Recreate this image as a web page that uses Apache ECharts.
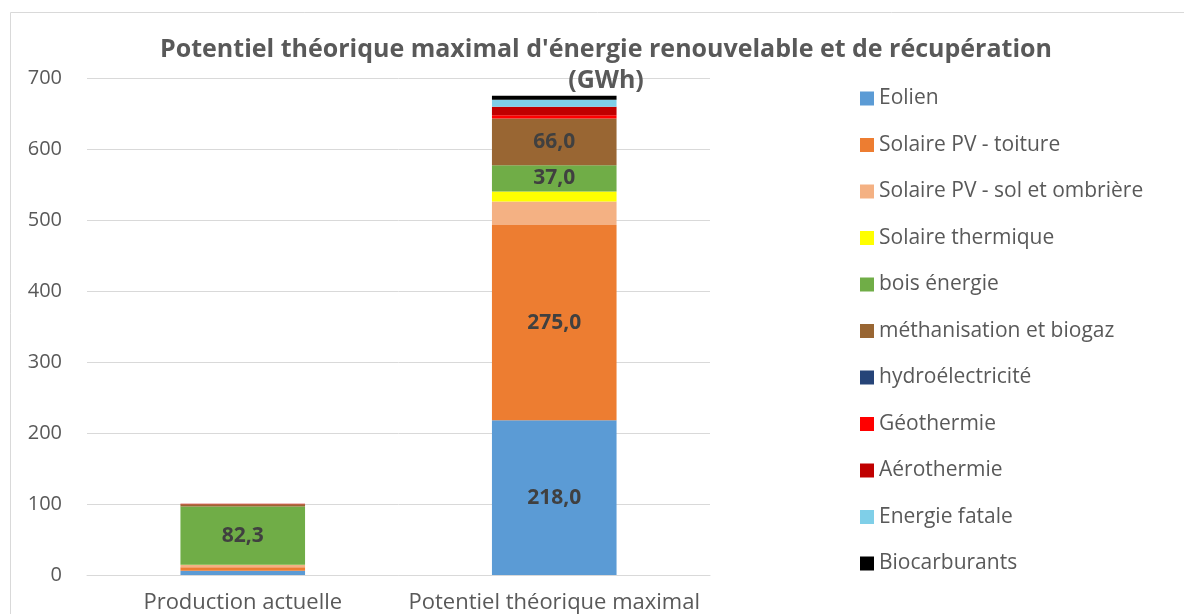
<!DOCTYPE html>
<html>
<head>
<meta charset="utf-8">
<script src="https://cdn.jsdelivr.net/npm/echarts@6/dist/echarts.min.js"></script>
<style>
  html, body { margin: 0; padding: 0; background: #fff; }
  #chart { width: 1184px; height: 614px; }
</style>
</head>
<body>
<div id="chart"></div>
<script>
// catégories et valeurs (GWh)
const categories = ['Production actuelle', 'Potentiel théorique maximal'];
const seriesNames = [
  'Eolien', 'Solaire PV - toiture', 'Solaire PV - sol et ombrière', 'Solaire thermique',
  'bois énergie', 'méthanisation et biogaz', 'hydroélectricité', 'Géothermie',
  'Aérothermie', 'Energie fatale', 'Biocarburants'
];
const colors = [
  '#5b9bd5', '#ed7d31', '#f4b183', '#ffff00',
  '#70ad47', '#996633', '#264478', '#ff0000',
  '#c00000', '#7fcfe8', '#000000'
];
const eolien = [6, 218];
const pvToiture = [5, 275];
const pvSol = [3, 33];
const solaireThermique = [0.3, 14];
const bois = [82.3, 37];
const methanisation = [3, 66];
const hydro = [0, 0];
const geothermie = [0.3, 4.5];
const aerothermie = [0.3, 12];
const energieFatale = [0, 10];
const biocarburants = [0, 5.5];
const yTicks = [0, 100, 200, 300, 400, 500, 600, 700];

const values = [eolien, pvToiture, pvSol, solaireThermique, bois, methanisation,
  hydro, geothermie, aerothermie, energieFatale, biocarburants];

const textColor = '#595959';
const font = 'Open Sans';

const chart = echarts.init(document.getElementById('chart'));
chart.setOption({
  animation: false,
  graphic: [{
    type: 'rect',
    shape: { x: 10.5, y: 12.5, width: 1300, height: 700 },
    style: { fill: 'none', stroke: '#d9d9d9', lineWidth: 1 },
    silent: true
  }],
  title: {
    text: "Potentiel théorique maximal d'énergie renouvelable et de récupération\n(GWh)",
    left: 601,
    textAlign: 'center',
    top: 29,
    textStyle: {
      fontFamily: font, fontSize: 25, fontWeight: 'bold',
      color: textColor, lineHeight: 31
    }
  },
  legend: {
    orient: 'vertical',
    left: 855,
    top: 83,
    itemWidth: 14,
    itemHeight: 14,
    itemGap: 25.5,
    icon: 'rect',
    data: seriesNames,
    textStyle: { fontFamily: font, fontSize: 21, color: textColor, padding: [0, 0, 0, 0] }
  },
  grid: { left: 87, right: 474, top: 78, bottom: 38, containLabel: false },
  xAxis: {
    type: 'category',
    data: categories,
    axisLine: { lineStyle: { color: '#d9d9d9' } },
    axisTick: { show: false },
    axisLabel: { interval: 0, fontFamily: font, fontSize: 22, color: textColor, margin: 17 }
  },
  yAxis: {
    type: 'value',
    min: yTicks[0],
    max: yTicks[yTicks.length - 1],
    interval: 100,
    splitLine: { lineStyle: { color: '#d9d9d9' } },
    axisLine: { show: false },
    axisLabel: { fontFamily: font, fontSize: 20, color: textColor, margin: 25 }
  },
  series: seriesNames.map((name, i) => ({
    name: name,
    type: 'bar',
    stack: 'total',
    barWidth: '40%',
    itemStyle: { color: colors[i] },
    label: {
      show: true,
      position: 'inside',
      fontFamily: font,
      fontSize: 21,
      fontWeight: 'bold',
      color: '#404040',
      formatter: p => (p.value >= 35 ? p.value.toFixed(1).replace('.', ',') : '')
    },
    data: values[i]
  }))
});
</script>
</body>
</html>
